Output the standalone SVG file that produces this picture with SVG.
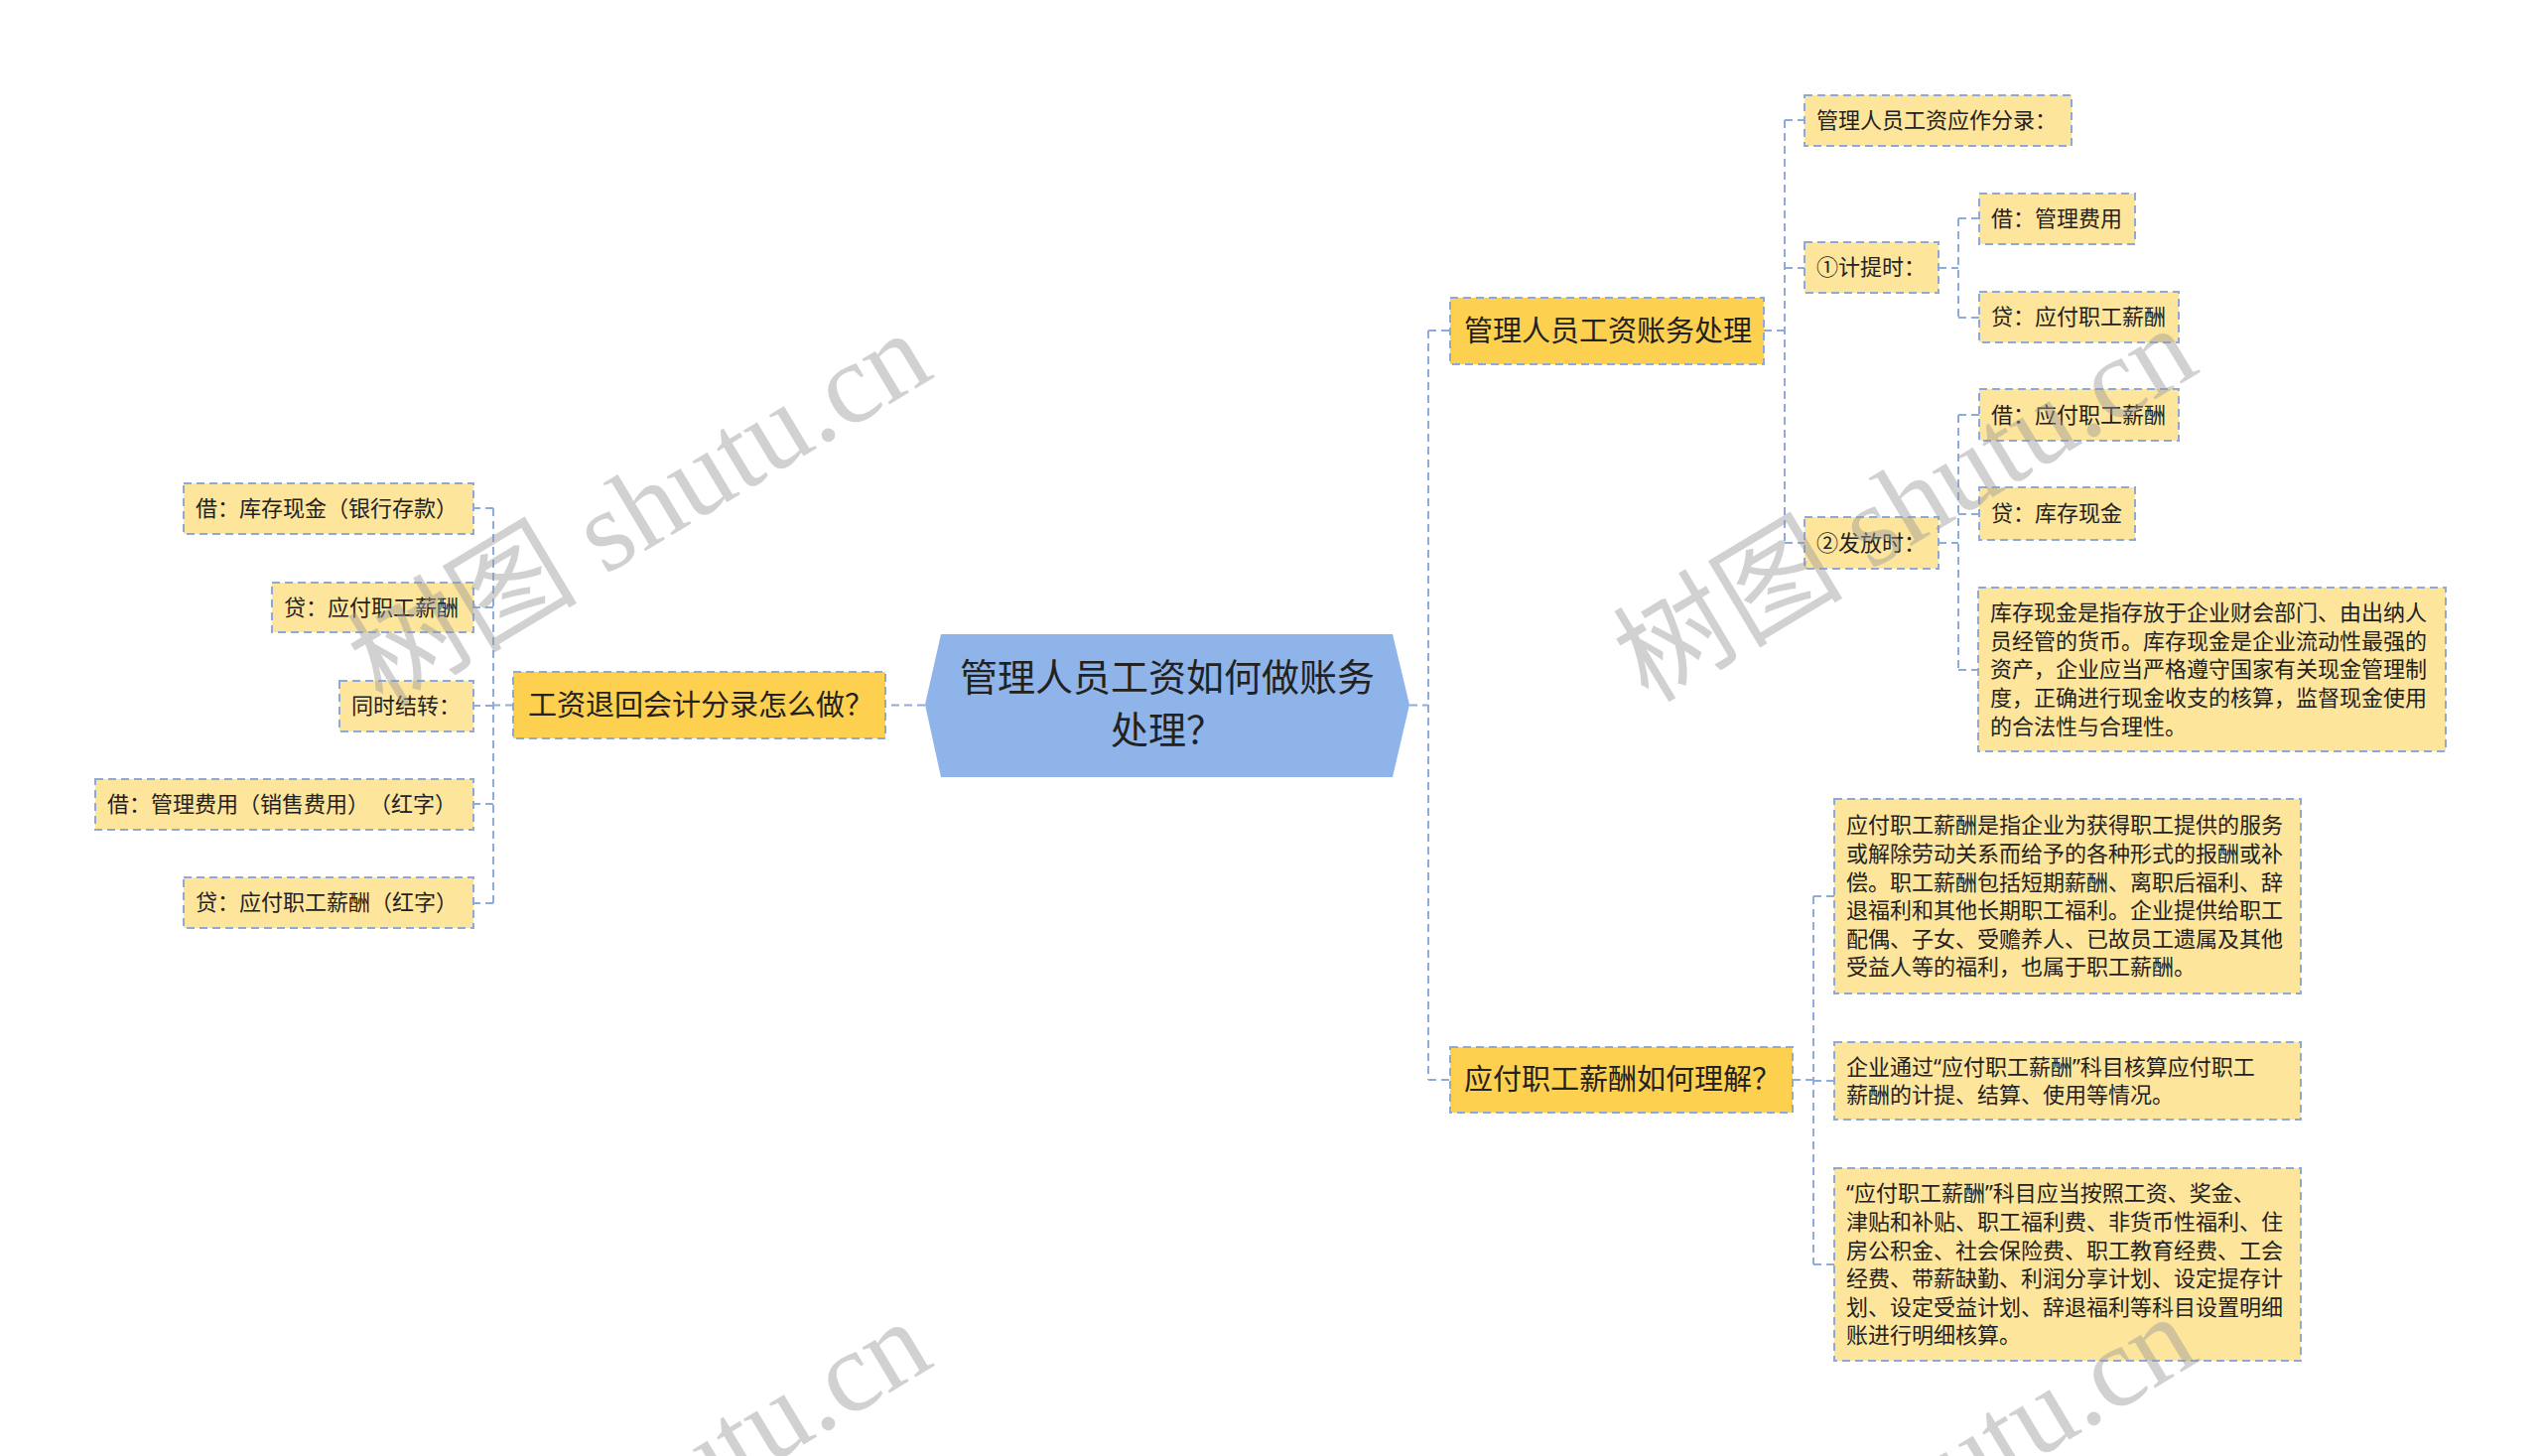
<svg xmlns="http://www.w3.org/2000/svg" width="2560" height="1467" viewBox="0 0 2560 1467">
<style>
text{font-family:"Noto Sans CJK SC","Noto Sans",sans-serif;fill:#222;text-spacing-trim:space-all}
.main rect{fill:#fdd04f;stroke:#8fa9d6;stroke-width:2;stroke-dasharray:8 5}
.sub rect{fill:#fee59c;stroke:#8fa9d6;stroke-width:2;stroke-dasharray:8 5}
.main text{font-size:29px}
.sub text{font-size:22px}
.q{font-family:"Noto Sans","Liberation Sans",sans-serif}
.conn path{fill:none;stroke:#8fabdc;stroke-width:2;stroke-dasharray:8 5}
.wm{font-family:"Liberation Serif","Noto Sans CJK SC",serif;font-size:116px;fill:#9a9a9a;opacity:0.45}
</style>
<rect width="2560" height="1467" fill="#ffffff"/>
<g id="connectors" class="conn">
<path d="M932 710.5H892"/>
<path d="M1420 710.5H1439"/>
<path d="M1439 333V1088M1439 333H1461M1439 1088H1461"/>
<path d="M517 710.5H497M497 512V910M497 512H477M497 612H477M497 711H477M497 810H477M497 910H477"/>
<path d="M1777 333H1798M1798 121V547M1798 121H1818M1798 270H1818M1798 547H1818"/>
<path d="M1953 270H1973M1973 220V320M1973 220H1994M1973 320H1994"/>
<path d="M1953 547H1973M1973 418V675M1973 418H1994M1973 518H1994M1973 675H1993"/>
<path d="M1806 1088H1827M1827 903V1274M1827 903H1848M1827 1089H1848M1827 1274H1848"/>
</g>
<g id="center">
<polygon points="932,710 948,639 1403,639 1420,710 1403,783 948,783" fill="#8fb4ea"/>
<text x="1176" y="696" font-size="38" text-anchor="middle">管理人员工资如何做账务</text>
<text x="1176" y="749" font-size="38" text-anchor="middle">处理？</text>
</g>
<g id="n-left" class="main"><rect x="517" y="677" width="375" height="67"/><text x="532" y="721">工资退回会计分录怎么做？</text></g>
<g id="n-l1" class="sub"><rect x="185" y="487" width="292" height="51"/><text x="197" y="520">借：库存现金（银行存款）</text></g>
<g id="n-l2" class="sub"><rect x="274" y="587" width="203" height="50"/><text x="286" y="620">贷：应付职工薪酬</text></g>
<g id="n-l3" class="sub"><rect x="342" y="686" width="135" height="51"/><text x="354" y="719">同时结转：</text></g>
<g id="n-l4" class="sub"><rect x="96" y="785" width="381" height="51"/><text x="108" y="818">借：管理费用（销售费用）（红字）</text></g>
<g id="n-l5" class="sub"><rect x="185" y="884" width="292" height="51"/><text x="197" y="917">贷：应付职工薪酬（红字）</text></g>
<g id="n-r1" class="main"><rect x="1461" y="300" width="316" height="67"/><text x="1475" y="344">管理人员工资账务处理</text></g>
<g id="n-r2" class="main"><rect x="1461" y="1055" width="345" height="66"/><text x="1475" y="1098">应付职工薪酬如何理解？</text></g>
<g id="n-r1a" class="sub"><rect x="1818" y="96" width="269" height="51"/><text x="1830" y="129">管理人员工资应作分录：</text></g>
<g id="n-r1b" class="sub"><rect x="1818" y="244" width="135" height="51"/><text x="1830" y="277">①计提时：</text></g>
<g id="n-r1c" class="sub"><rect x="1818" y="521" width="135" height="52"/><text x="1830" y="555">②发放时：</text></g>
<g id="n-r1b1" class="sub"><rect x="1994" y="195" width="157" height="51"/><text x="2006" y="228">借：管理费用</text></g>
<g id="n-r1b2" class="sub"><rect x="1994" y="294" width="201" height="51"/><text x="2006" y="327">贷：应付职工薪酬</text></g>
<g id="n-r1c1" class="sub"><rect x="1994" y="392" width="201" height="52"/><text x="2006" y="426">借：应付职工薪酬</text></g>
<g id="n-r1c2" class="sub"><rect x="1994" y="491" width="157" height="53"/><text x="2006" y="525">贷：库存现金</text></g>
<g id="n-r1c3" class="sub"><rect x="1993" y="592" width="471" height="165"/>
<text x="2005" y="625">库存现金是指存放于企业财会部门、由出纳人</text>
<text x="2005" y="654">员经管的货币。库存现金是企业流动性最强的</text>
<text x="2005" y="682">资产，企业应当严格遵守国家有关现金管理制</text>
<text x="2005" y="711">度，正确进行现金收支的核算，监督现金使用</text>
<text x="2005" y="740">的合法性与合理性。</text>
</g>
<g id="n-r2a" class="sub"><rect x="1848" y="805" width="470" height="196"/>
<text x="1860" y="839">应付职工薪酬是指企业为获得职工提供的服务</text>
<text x="1860" y="868">或解除劳动关系而给予的各种形式的报酬或补</text>
<text x="1860" y="897">偿。职工薪酬包括短期薪酬、离职后福利、辞</text>
<text x="1860" y="925">退福利和其他长期职工福利。企业提供给职工</text>
<text x="1860" y="954">配偶、子女、受赡养人、已故员工遗属及其他</text>
<text x="1860" y="982">受益人等的福利，也属于职工薪酬。</text>
</g>
<g id="n-r2b" class="sub"><rect x="1848" y="1050" width="470" height="78"/>
<text x="1860" y="1083">企业通过<tspan class="q">“</tspan>应付职工薪酬<tspan class="q">”</tspan>科目核算应付职工</text>
<text x="1860" y="1111">薪酬的计提、结算、使用等情况。</text>
</g>
<g id="n-r2c" class="sub"><rect x="1848" y="1177" width="470" height="194"/>
<text x="1860" y="1210"><tspan class="q">“</tspan>应付职工薪酬<tspan class="q">”</tspan>科目应当按照工资、奖金、</text>
<text x="1860" y="1239">津贴和补贴、职工福利费、非货币性福利、住</text>
<text x="1860" y="1268">房公积金、社会保险费、职工教育经费、工会</text>
<text x="1860" y="1296">经费、带薪缺勤、利润分享计划、设定提存计</text>
<text x="1860" y="1325">划、设定受益计划、辞退福利等科目设置明细</text>
<text x="1860" y="1353">账进行明细核算。</text>
</g>
<g id="watermarks">
<text class="wm" x="645" y="552" text-anchor="middle" transform="rotate(-31 645 514)">树图 shutu.cn</text>
<text class="wm" x="1920" y="547" text-anchor="middle" transform="rotate(-31 1920 509)">树图 shutu.cn</text>
<text class="wm" x="645" y="1548" text-anchor="middle" transform="rotate(-31 645 1510)">树图 shutu.cn</text>
<text class="wm" x="1920" y="1543" text-anchor="middle" transform="rotate(-31 1920 1505)">树图 shutu.cn</text>
</g>
</svg>
